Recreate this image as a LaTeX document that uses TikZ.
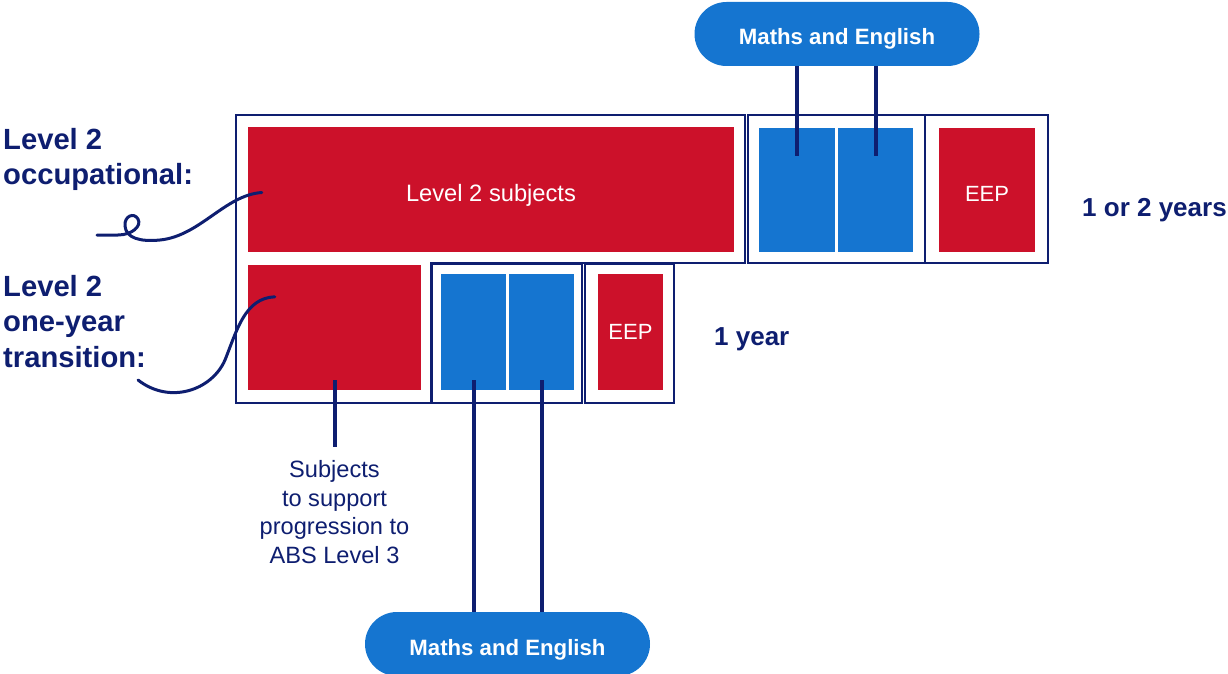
\documentclass[tikz,border=0pt]{standalone}
\usepackage{fontspec}
\setmainfont{Liberation Sans}
\usepackage{tikz}
\usetikzlibrary{positioning, calc}
\definecolor{navycolor}{RGB}{14,30,112}
\definecolor{redcolor}{RGB}{204,17,42}
\definecolor{bluecolor}{RGB}{21,117,208}

\tikzset{
    frameline/.style={draw=navycolor, line width=2.5pt},
    redbox/.style={rectangle, fill=redcolor, text=white, inner sep=0pt, font=\fontsize{22}{26}\selectfont},
    bluebox/.style={rectangle, fill=bluecolor, inner sep=0pt},
    lowtext/.style={text height=#1, text depth=0pt},
    pill/.style={rectangle, rounded corners=32pt, fill=bluecolor, text=white, minimum width=285pt, minimum height=64pt, font=\bfseries\fontsize{22.2}{26}\selectfont, lowtext=22pt},
    navyline/.style={draw=navycolor, line width=4pt},
    curveline/.style={draw=navycolor, line width=3pt, line cap=round},
    sidelabel/.style={text=navycolor, font=\bfseries\fontsize{29.2}{35.5}\selectfont, align=left, inner sep=0pt},
    yearlabel/.style={text=navycolor, font=\bfseries\fontsize{26}{30}\selectfont, inner sep=0pt}
}

\begin{document}
\begin{tikzpicture}[x=1pt, y=-1pt]
    \useasboundingbox (0,0) rectangle (1228,674);

    % frames
    \draw[frameline] (236,115) -- (745,115) -- (745,263) -- (431,263) -- (431,403) -- (236,403) -- cycle;
    \draw[frameline] (748,115) rectangle (925,263);
    \draw[frameline] (925,115) rectangle (1048,263);
    \draw[frameline] (432,264) rectangle (582,403);
    \draw[frameline] (585,264) rectangle (674,403);

    % top row
    \node[redbox, minimum width=486pt, minimum height=125pt, font=\fontsize{23.7}{28}\selectfont, lowtext=24pt] (subj) at (491,189.5) {Level 2 subjects};
    \node[bluebox, minimum width=76pt, minimum height=124pt] (topmathsA) at (797,190) {};
    \node[bluebox, minimum width=75pt, minimum height=124pt] (topmathsB) at (875.5,190) {};
    \node[redbox, minimum width=96pt, minimum height=124pt, lowtext=22pt] (topeep) at (987,190) {EEP};

    % bottom row
    \node[redbox, minimum width=173pt, minimum height=125pt] (lowsubj) at (334.5,327.5) {};
    \node[bluebox, minimum width=65pt, minimum height=116pt] (lowmathsA) at (473.5,332) {};
    \node[bluebox, minimum width=65pt, minimum height=116pt] (lowmathsB) at (541.5,332) {};
    \node[redbox, minimum width=65pt, minimum height=116pt] (loweep) at (630.5,332) {EEP};

    % pills
    \node[pill] (toppill) at (837,34) {Maths and English};
    \node[pill] (lowpill) at (507.5,644) {Maths and English};

    \draw[navyline] (topmathsA |- toppill.south) -- ([yshift=-28pt]topmathsA.north);
    \draw[navyline] (topmathsB |- toppill.south) -- ([yshift=-28pt]topmathsB.north);
    \draw[navyline] ([yshift=10pt]lowmathsA.south) -- (lowmathsA |- lowpill.north);
    \draw[navyline] ([yshift=10pt]lowmathsB.south) -- (lowmathsB |- lowpill.north);

    % note under the subjects box
    \node[text=navycolor, align=center, inner sep=0pt, font=\fontsize{23.6}{28.5}\selectfont, below=70pt of lowsubj] (subjnote) {Subjects\\to support\\progression to\\ABS Level 3};
    \draw[navyline] ([yshift=10pt]lowsubj.south) -- ([yshift=13pt]subjnote.north);

    % side labels
    \node[sidelabel, anchor=north west] (occlabel) at (3,128) {Level 2\\occupational:};
    \node[sidelabel, anchor=north west] (translabel) at (3,275) {Level 2\\one-year\\transition:};
    \node[yearlabel, anchor=base west] (twoyears) at (1082,216) {1 or 2 years};
    \node[yearlabel, anchor=base west] (oneyear) at (714,345) {1 year};

    % squiggles
    \coordinate (occstart) at (97,235);
    \coordinate (transend) at (138,380);
    \draw[curveline] (occstart) -- (118,235) .. controls (132,235) and (142,226) .. (138,219)
        .. controls (134,212) and (124,216) .. (125,226)
        .. controls (126,238) and (140,242) .. (160,240)
        .. controls (200,236) and (225,195) .. ([xshift=14pt,yshift=-3pt]subj.west);
    \draw[curveline] ([xshift=27pt,yshift=-32pt]lowsubj.north west) .. controls (245,298) and (237,330) .. (225,360)
        .. controls (212,390) and (170,405) .. (transend);
\end{tikzpicture}
\end{document}
